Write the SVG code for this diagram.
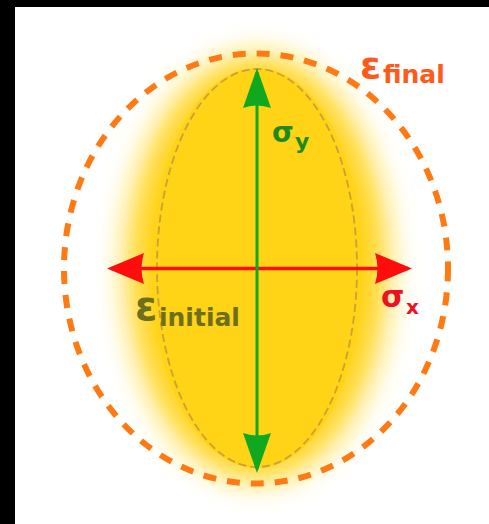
<svg xmlns="http://www.w3.org/2000/svg" width="489" height="524" viewBox="0 0 489 524">
  <defs>
    <filter id="glow" x="-50%" y="-50%" width="200%" height="200%">
      <feGaussianBlur stdDeviation="15"/>
    </filter>
    <marker id="headRed" markerUnits="userSpaceOnUse" viewBox="-42 -17 46 34" refX="-4" refY="0" markerWidth="46" markerHeight="34" orient="auto-start-reverse">
      <path d="M0,0 L-37,-15.5 Q-32,0 -37,15.5 Z" fill="#ff0d0d"/>
    </marker>
    <marker id="headGreen" markerUnits="userSpaceOnUse" viewBox="-42 -17 46 34" refX="-4" refY="0" markerWidth="46" markerHeight="34" orient="auto-start-reverse">
      <path d="M0,0 L-40,-14 Q-35,0 -40,14 Z" fill="#10a81e"/>
    </marker>
    <style>
      .lbl { font-family: "DejaVu Sans", Verdana, sans-serif; font-weight: bold; }
    </style>
  </defs>

  <rect x="0" y="0" width="489" height="524" fill="#000000"/>
  <rect x="15" y="7" width="474" height="517" fill="#ffffff"/>

  <g id="glow-area">
    <ellipse cx="257" cy="268" rx="130" ry="212" fill="#ffd316" filter="url(#glow)"/>
    <ellipse cx="257" cy="268" rx="106" ry="200" fill="#ffd316"/>
  </g>

  <g id="initial-ellipse">
    <ellipse cx="257" cy="268" rx="100" ry="199" fill="none" stroke="#c9a03a" stroke-width="1.8" stroke-dasharray="8,4"/>
  </g>

  <g id="final-ellipse">
    <ellipse cx="256" cy="268.5" rx="192" ry="215" fill="none" stroke="#ff7a12" stroke-width="6" stroke-dasharray="13,11"/>
  </g>

  <g id="connectors">
    <path d="M111,268.5 H408" stroke="#ff0d0d" stroke-width="3.5" fill="none" marker-start="url(#headRed)" marker-end="url(#headRed)"/>
    <path d="M257,72 V469" stroke="#10a81e" stroke-width="3" fill="none" marker-start="url(#headGreen)" marker-end="url(#headGreen)"/>
  </g>

  <g id="label-eps-final" class="lbl" fill="#ff5a1c">
    <text x="360" y="78" font-size="38">ε</text>
    <text x="383" y="83" font-size="25">final</text>
  </g>
  <g id="label-sigma-y" class="lbl" fill="#1e8a1e">
    <text x="272" y="142" font-size="28">σ</text>
    <text x="295" y="149" font-size="22">y</text>
  </g>
  <g id="label-eps-initial" class="lbl" fill="#6e6e1c">
    <text x="135" y="320" font-size="40">ε</text>
    <text x="159" y="326" font-size="25">initial</text>
  </g>
  <g id="label-sigma-x" class="lbl" fill="#ee1122">
    <text x="381" y="307" font-size="30">σ</text>
    <text x="406" y="314" font-size="20">x</text>
  </g>
</svg>
